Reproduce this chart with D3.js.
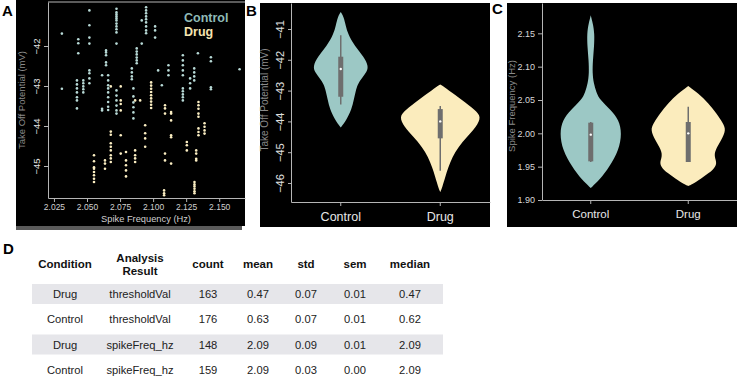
<!DOCTYPE html>
<html>
<head>
  <meta charset="utf-8">
  <title>Take off potential and spike frequency</title>
  <script src="https://cdn.jsdelivr.net/npm/d3@7"></script>
  <style>
    body { margin: 0; background: #fff; }
    text { font-family: "Liberation Sans", Arial, sans-serif; }
  </style>
</head>
<body>
<script>
  var width = 737;
  var height = 378;

  var groups = ["Control", "Drug"];
  var teal = "#9cc8c5";
  var cream = "#fbecbd";

  // panel A: scatter, columns of [spike freq, [take off potentials]]
  var controlCols = [
    [2.031, [-41.69, -43.07]],
    [2.0424, [-42.86, -42.96, -43.06, -43.16, -43.28, -43.36, -43.56]],
    [2.0434, [-41.83, -41.93, -42.18]],
    [2.0472, [-42.86, -42.93, -43.01, -43.08, -43.16]],
    [2.0518, [-41.11, -41.48, -41.79, -41.94, -42.61, -42.68, -42.81, -42.93]],
    [2.0614, [-42.73, -43.57, -43.61]],
    [2.0644, [-42.11, -42.16, -42.23, -42.41, -42.48]],
    [2.066, [-42.73, -42.86, -42.98, -43.06, -43.16, -43.28, -43.4, -43.52, -43.6]],
    [2.0723, [-41.07, -41.16, -41.21, -41.26, -41.31, -41.36, -41.44, -41.51, -41.58, -41.66, -41.94]],
    [2.0723, [-43.11, -43.24, -43.36, -43.49, -43.61, -43.69]],
    [2.0839, [-42.56, -42.66, -42.76, -42.83]],
    [2.0851, [-43.06, -43.26, -43.41, -43.53, -43.66, -43.81]],
    [2.0876, [-42.06, -42.14, -42.21, -42.29, -42.36, -42.43]],
    [2.0914, [-41.36, -41.94]],
    [2.0947, [-41.03, -41.11, -41.18, -41.26, -41.33, -41.41, -41.51, -41.61, -41.68]],
    [2.1015, [-41.51, -41.61, -41.79]],
    [2.1038, [-42.61]],
    [2.1066, [-42.98]],
    [2.1116, [-42.48, -42.61, -42.73]],
    [2.1225, [-42.23, -42.36, -42.48, -42.61, -42.73, -43.06, -43.13, -43.21, -43.28, -43.36]],
    [2.128, [-42.81, -42.93, -43.06]],
    [2.1311, [-42.56, -42.66, -42.76, -42.86]],
    [2.1339, [-42.18]],
    [2.1437, [-42.28, -42.38, -43.03, -43.08]],
    [2.1654, [-42.58]]
  ];
  var drugCols = [
    [2.0553, [-44.73, -44.88, -45.03, -45.07, -45.15, -45.23, -45.32, -45.4]],
    [2.0636, [-44.86, -44.94, -45.07]],
    [2.068, [-43.01, -44.14, -44.22, -44.43, -44.52, -44.61, -44.73, -44.81, -44.9]],
    [2.0755, [-43.01, -43.36, -43.45, -43.61, -44.23, -44.69]],
    [2.0795, [-44.65, -44.86, -44.98, -45.11, -45.26]],
    [2.0864, [-43.36, -44.61, -44.73, -44.81, -44.9]],
    [2.0902, [-43.36]],
    [2.094, [-43.98, -44.18, -44.31, -44.52]],
    [2.0985, [-42.91, -42.99, -43.07, -43.15, -43.23, -43.31, -43.39, -43.47, -43.55]],
    [2.1083, [-45.61, -45.68, -45.73]],
    [2.109, [-43.48, -43.56, -43.69, -44.69, -44.86]],
    [2.1136, [-43.65, -43.69, -43.86, -44.23, -44.28, -44.94]],
    [2.1255, [-44.4, -44.48, -44.61]],
    [2.1313, [-45.4, -45.46, -45.51, -45.57, -45.63, -45.68]],
    [2.1326, [-44.61, -44.69, -44.82, -44.86]],
    [2.1343, [-43.4, -43.48, -43.57, -43.69, -43.77, -44.06, -44.15, -44.23]],
    [2.1389, [-43.93, -44.02, -44.11, -44.19]]
  ];
  var aXTicks = [2.025, 2.05, 2.075, 2.1, 2.125, 2.15];
  var aYTicks = [-42, -43, -44, -45];

  // panel B: take off potential violins, [value, relative width]
  var bControlShape = [[-40.45, 0], [-40.6, 0.07], [-40.9, 0.12], [-41.15, 0.17], [-41.55, 0.33], [-41.9, 0.55],
    [-42.2, 0.66], [-42.4, 0.62], [-42.6, 0.5], [-42.8, 0.4], [-43.0, 0.36], [-43.3, 0.31], [-43.6, 0.26],
    [-43.95, 0.14], [-44.2, 0]];
  var bDrugShape = [[-42.8, 0], [-42.98, 0.19], [-43.3, 0.52], [-43.63, 0.83], [-43.85, 0.98], [-44.17, 0.86],
    [-44.5, 0.64], [-44.83, 0.43], [-45.15, 0.29], [-45.5, 0.19], [-45.8, 0.12], [-46.13, 0.05], [-46.3, 0]];
  // whisker low, q1, median, q3, whisker high
  var bControlBox = [-43.45, -43.2, -42.3, -41.9, -41.2];
  var bDrugBox = [-45.6, -44.55, -44.0, -43.6, -43.5];
  var bYTicks = [-41, -42, -43, -44, -45, -46];

  // panel C: spike frequency violins
  var cControlShape = [[2.177, 0], [2.165, 0.05], [2.15, 0.09], [2.13, 0.08], [2.11, 0.05], [2.09, 0.04],
    [2.075, 0.07], [2.062, 0.13], [2.05, 0.22], [2.035, 0.48], [2.02, 0.67], [2.0, 0.74], [1.975, 0.67],
    [1.95, 0.45], [1.93, 0.21], [1.918, 0]];
  var cDrugShape = [[2.071, 0], [2.06, 0.24], [2.045, 0.48], [2.03, 0.67], [2.015, 0.83], [2.005, 0.9],
    [1.99, 0.79], [1.975, 0.64], [1.965, 0.62], [1.955, 0.69], [1.945, 0.6], [1.935, 0.36], [1.925, 0.14],
    [1.921, 0]];
  var cControlBox = [1.957, 1.958, 1.998, 2.016, 2.017];
  var cDrugBox = [1.957, 1.957, 2.0, 2.017, 2.04];
  var cYTicks = [1.90, 1.95, 2.00, 2.05, 2.10, 2.15];

  // panel D: table
  var tableHeader = [["Condition"], ["Analysis", "Result"], ["count"], ["mean"], ["std"], ["sem"], ["median"]];
  var tableRows = [
    ["Drug", "thresholdVal", "163", "0.47", "0.07", "0.01", "0.47"],
    ["Control", "thresholdVal", "176", "0.63", "0.07", "0.01", "0.62"],
    ["Drug", "spikeFreq_hz", "148", "2.09", "0.09", "0.01", "2.09"],
    ["Control", "spikeFreq_hz", "159", "2.09", "0.03", "0.00", "2.09"]
  ];

  var svg = d3.select("body")
    .append("svg")
    .attr("width", width)
    .attr("height", height);

  svg.append("rect").attr("width", width).attr("height", height).attr("fill", "#fff");

  // panel backgrounds
  svg.append("rect").attr("x", 16).attr("y", 0).attr("width", 229).attr("height", 226).attr("fill", "#000");
  svg.append("rect").attr("x", 16).attr("y", 226).attr("width", 226).attr("height", 4).attr("fill", "#5a5a5a");
  svg.append("rect").attr("x", 260).attr("y", 3).attr("width", 230).attr("height", 224).attr("fill", "#000");
  svg.append("rect").attr("x", 507).attr("y", 3).attr("width", 230).attr("height", 224).attr("fill", "#000");

  function letter(t, x, y) {
    svg.append("text").attr("x", x).attr("y", y).text(t)
      .attr("font-size", "15px").attr("font-weight", "bold").attr("fill", "#000");
  }
  letter("A", 2, 16);
  letter("B", 246, 16);
  letter("C", 492, 14);
  letter("D", 3, 254);

  function styleAxis(g) {
    g.select(".domain").attr("stroke", "#b5b5b5");
    g.selectAll(".tick line").attr("stroke", "#b5b5b5");
    g.selectAll(".tick text").attr("fill", "#d0d0d0");
  }

  function rotateTicks(g, off) {
    g.selectAll(".tick text")
      .attr("x", null).attr("dy", null)
      .attr("text-anchor", "middle")
      .attr("transform", "translate(" + off + ",0) rotate(-90)");
  }

  // ---- panel A
  var xA = d3.scaleLinear().domain([2.0205, 2.1695]).range([48, 245]);
  var yA = d3.scaleLinear().domain([-45.8, -40.9]).range([198, 2]);

  var gA = svg.append("g");
  gA.append("line").attr("x1", 48).attr("x2", 245).attr("y1", 2).attr("y2", 2).attr("stroke", "#b5b5b5");

  gA.append("g")
    .attr("transform", "translate(0,198)")
    .call(d3.axisBottom(xA).tickValues(aXTicks).tickFormat(d3.format(".3f")).tickSize(4).tickSizeOuter(0))
    .call(styleAxis)
    .call(function(g) {
      g.selectAll(".tick text").attr("font-family", "DejaVu Sans").attr("font-size", "8.5px").attr("dy", "0.55em");
    });

  gA.append("g")
    .attr("transform", "translate(48,0)")
    .call(d3.axisLeft(yA).tickValues(aYTicks).tickFormat(d3.format("d")).tickSize(4).tickSizeOuter(0))
    .call(styleAxis)
    .call(function(g) {
      g.selectAll(".tick text").attr("font-size", "9.5px").attr("font-family", "Liberation Sans").attr("fill", "#e0e0e0");
      rotateTicks(g, -8.5);
    });

  gA.append("text")
    .attr("transform", "translate(25,100) rotate(-90)")
    .attr("text-anchor", "middle")
    .attr("font-size", "9.5px")
    .attr("fill", "#8a8a8a")
    .text("Take Off Potential (mV)");

  gA.append("text")
    .attr("x", 146).attr("y", 222)
    .attr("text-anchor", "middle")
    .attr("font-family", "DejaVu Sans")
    .attr("font-size", "9.3px")
    .attr("fill", "#cfcfcf")
    .text("Spike Frequency (Hz)");

  function flatten(cols) {
    var out = [];
    cols.forEach(function(c) {
      c[1].forEach(function(v) { out.push([c[0], v]); });
    });
    return out;
  }

  gA.append("g")
    .selectAll("circle")
    .data(flatten(controlCols))
    .enter()
    .append("circle")
    .attr("cx", function(d) { return xA(d[0]); })
    .attr("cy", function(d) { return yA(d[1]); })
    .attr("r", 1.3)
    .attr("fill", "#b7d9d6");

  gA.append("g")
    .selectAll("circle")
    .data(flatten(drugCols))
    .enter()
    .append("circle")
    .attr("cx", function(d) { return xA(d[0]); })
    .attr("cy", function(d) { return yA(d[1]); })
    .attr("r", 1.3)
    .attr("fill", "#fbeec2");

  gA.append("text").attr("x", 184).attr("y", 22).text("Control")
    .attr("font-size", "12.5px").attr("font-weight", "bold").attr("fill", "#8fbab7");
  gA.append("text").attr("x", 184).attr("y", 36).text("Drug")
    .attr("font-size", "12.5px").attr("font-weight", "bold").attr("fill", "#f4e4b0");

  // ---- violins
  var wScale = d3.scaleLinear().domain([0, 1]).range([0, 42]);

  function violin(g, x, y, group, shape, box, fill) {
    var cx = x(group) + x.bandwidth() / 2;
    var area = d3.area()
      .curve(d3.curveBasis)
      .y(function(d) { return y(d[0]); })
      .x0(function(d) { return cx - wScale(d[1]); })
      .x1(function(d) { return cx + wScale(d[1]); });
    g.append("path").datum(shape).attr("d", area).attr("fill", fill);
    g.append("line")
      .attr("x1", cx).attr("x2", cx)
      .attr("y1", y(box[0])).attr("y2", y(box[4]))
      .attr("stroke", "#6e6e6e").attr("stroke-width", 1.5);
    g.append("rect")
      .attr("x", cx - 2.5).attr("width", 5)
      .attr("y", y(box[3])).attr("height", y(box[1]) - y(box[3]))
      .attr("fill", "#6e6e6e");
    g.append("circle").attr("cx", cx).attr("cy", y(box[2])).attr("r", 1.2).attr("fill", "#fff");
  }

  // ---- panel B
  var xB = d3.scaleBand().domain(groups).range([291, 490]);
  var yB = d3.scaleLinear().domain([-46.617, -40.156]).range([202, 3]);
  var gB = svg.append("g");

  violin(gB, xB, yB, "Control", bControlShape, bControlBox, teal);
  violin(gB, xB, yB, "Drug", bDrugShape, bDrugBox, cream);

  gB.append("g")
    .attr("transform", "translate(0,202)")
    .call(d3.axisBottom(xB).tickSize(4).tickSizeOuter(0))
    .call(styleAxis)
    .call(function(g) {
      g.selectAll(".tick text").attr("font-size", "12.5px").attr("font-family", "Liberation Sans").attr("dy", "0.95em").attr("fill", "#e8e8e8");
    });

  gB.append("g")
    .attr("transform", "translate(291,0)")
    .call(d3.axisLeft(yB).tickValues(bYTicks).tickFormat(d3.format("d")).tickSize(3).tickSizeOuter(0))
    .call(styleAxis)
    .call(function(g) {
      g.selectAll(".tick text").attr("font-size", "11px").attr("font-family", "Liberation Sans").attr("fill", "#e0e0e0");
      rotateTicks(g, -7.5);
    });

  gB.append("text")
    .attr("transform", "translate(268,100) rotate(-90)")
    .attr("text-anchor", "middle")
    .attr("font-size", "10px")
    .attr("fill", "#8a8a8a")
    .text("Take Off Potential (mV)");

  // ---- panel C
  var xC = d3.scaleBand().domain(groups).range([542, 737]);
  var yC = d3.scaleLinear().domain([1.90, 2.1955]).range([200, 3]);
  var gC = svg.append("g");

  violin(gC, xC, yC, "Control", cControlShape, cControlBox, teal);
  violin(gC, xC, yC, "Drug", cDrugShape, cDrugBox, cream);

  gC.append("g")
    .attr("transform", "translate(0,200)")
    .call(d3.axisBottom(xC).tickSize(4).tickSizeOuter(0))
    .call(styleAxis)
    .call(function(g) {
      g.selectAll(".tick text").attr("font-size", "11.5px").attr("font-family", "DejaVu Sans").attr("dy", "0.95em").attr("fill", "#e8e8e8");
    });

  gC.append("g")
    .attr("transform", "translate(542,0)")
    .call(d3.axisLeft(yC).tickValues(cYTicks).tickFormat(d3.format(".2f")).tickSize(4).tickSizeOuter(0))
    .call(styleAxis)
    .call(function(g) {
      g.selectAll(".tick text").attr("font-size", "9px").attr("font-family", "DejaVu Sans").attr("fill", "#d8d8d8");
    });

  gC.append("text")
    .attr("transform", "translate(515,106) rotate(-90)")
    .attr("text-anchor", "middle")
    .attr("font-family", "DejaVu Sans")
    .attr("font-size", "9.5px")
    .attr("fill", "#8a8a8a")
    .text("Spike Frequency (Hz)");

  // ---- panel D
  var colX = [65, 140, 208, 258, 306, 355, 410];
  var rowY = [294, 319, 344.5, 370];
  var gD = svg.append("g");

  gD.selectAll("rect.band")
    .data(tableRows)
    .enter()
    .filter(function(d, i) { return i % 2 === 0; })
    .append("rect")
    .attr("class", "band")
    .attr("x", 32).attr("width", 411)
    .attr("y", function(d) { return rowY[tableRows.indexOf(d)] - 10; })
    .attr("height", 20)
    .attr("fill", "#e6e6ea");

  tableHeader.forEach(function(lines, i) {
    lines.forEach(function(t, j) {
      gD.append("text")
        .attr("x", colX[i])
        .attr("y", 268 - (lines.length - 1) * 6.5 + j * 13)
        .attr("text-anchor", "middle")
        .attr("font-family", "Lato, sans-serif")
        .attr("font-weight", "bold")
        .attr("font-size", "11.5px")
        .attr("fill", "#111")
        .text(t);
    });
  });

  tableRows.forEach(function(row, r) {
    row.forEach(function(t, i) {
      gD.append("text")
        .attr("x", colX[i])
        .attr("y", rowY[r] + 4)
        .attr("text-anchor", "middle")
        .attr("font-family", "Lato, sans-serif")
        .attr("font-size", "11.2px")
        .attr("fill", "#222")
        .text(t);
    });
  });
</script>
</body>
</html>
